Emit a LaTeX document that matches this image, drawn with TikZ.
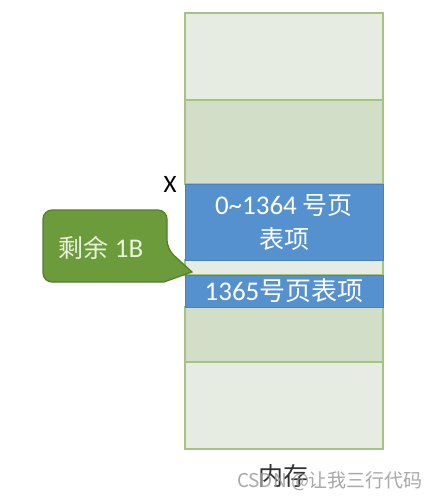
\documentclass[tikz,border=0pt]{standalone}
\usepackage{fontspec}
\setmainfont{Carlito}
\newfontfamily\cjk{Noto Sans CJK SC}
\definecolor{memlight}{HTML}{E7ECE3}
\definecolor{memdark}{HTML}{D3DEC9}
\definecolor{memborder}{HTML}{A6C47E}
\definecolor{pteblue}{HTML}{5591CF}
\definecolor{pteborder}{HTML}{4A80BF}
\definecolor{callfill}{HTML}{6B9B3A}
\definecolor{callborder}{HTML}{547D2E}
\definecolor{calltext}{HTML}{EAF2DE}
\tikzset{
  cell/.style={draw=memborder, line width=1.5pt, minimum width=198pt, inner sep=0pt, outer sep=0pt},
  lightcell/.style={cell, fill=memlight},
  darkcell/.style={cell, fill=memdark},
  ptecell/.style={draw=pteborder, fill=pteblue, line width=1pt, minimum width=198pt, inner sep=0pt, outer sep=0pt,
     text=white, font=\fontsize{27}{34}\selectfont, align=center},
  calloutshape/.style={draw=callborder, fill=callfill, line width=1.2pt},
}
\begin{document}
\begin{tikzpicture}[x=1pt, y=-1pt]
\useasboundingbox (0,0) rectangle (441,499);
\fill[white] (0,0) rectangle (441,499);
% memory column
\node[lightcell, minimum height=87pt] (m1) at (284,56.5) {};
\node[darkcell, minimum height=84pt] (m2) at (284,142) {};
\node[lightcell, minimum height=15pt] (gap) at (284,267.5) {};
\node[darkcell, minimum height=55pt] (m3) at (284,334.5) {};
\node[lightcell, minimum height=87pt] (m4) at (284,405.5) {};
\node[ptecell, minimum height=76pt] (b1) at (284,222) {0\textasciitilde1364 {\cjk\fontsize{25}{34}\selectfont 号页}\\{\cjk\fontsize{25}{34}\selectfont 表项}};
\node[ptecell, minimum height=32pt] (b2) at (284,291) {1365{\cjk\fontsize{26}{34}\selectfont 号页表项}};
% X label
\node[font=\fontsize{25}{25}\selectfont, inner sep=0pt] (xl) at (170,184) {X};
% callout
\coordinate (tip) at (192,272);
\path[calloutshape, rounded corners=9pt] (43,210) -- (167,210) -- (167,249) [sharp corners] -- (tip) -- (164,282) [rounded corners=9pt] -- (167,282) -- (43,282) -- cycle;
\node[text=calltext, font=\fontsize{27}{27}\selectfont, inner sep=0pt] (rem) at (101,248) {{\cjk\fontsize{25}{25}\selectfont 剩余} 1B};
% labels
\node[text=black!80, font=\cjk\fontsize{25}{25}\selectfont, inner sep=0pt] (mem) at (283,476) {内存};
\node[text=gray!80, opacity=0.85, font=\cjk\fontsize{19}{19}\selectfont, inner sep=0pt] (wm) at (330,481) {CSDN @让我三行代码};
\end{tikzpicture}
\end{document}
